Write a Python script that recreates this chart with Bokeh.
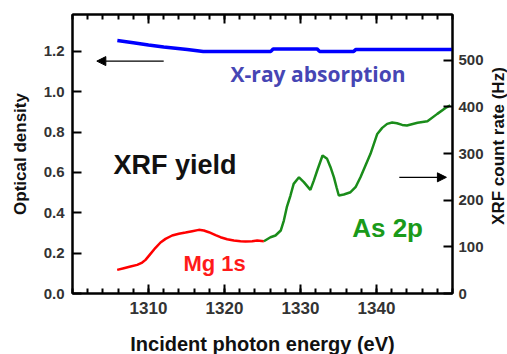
import math
from bokeh.plotting import figure
from bokeh.layouts import row
from bokeh.models import (Range1d, LinearAxis, Label, Arrow, NormalHead, FixedTicker, PrintfTickFormatter,
                          CustomJSTickFormatter)
from bokeh.embed import file_html
from bokeh.resources import INLINE

# X-ray absorption (optical density, left axis)
abs_energy = [1305.9, 1308.0, 1310.0, 1312.0, 1315.1, 1317.2, 1326.1, 1326.4, 1332.2, 1332.5, 1337.0, 1337.3, 1350.0]
abs_od = [1.254, 1.243, 1.232, 1.222, 1.210, 1.200, 1.200, 1.212, 1.212, 1.200, 1.200, 1.210, 1.210]

# XRF yield, Mg 1s region (right axis, Hz)
mg_energy = [1305.88, 1306.75, 1307.63, 1308.51, 1309.17, 1309.61, 1310.26, 1310.92, 1311.58, 1312.24,
             1313.11, 1313.99, 1314.87, 1315.75, 1316.62, 1317.28, 1317.94, 1318.82, 1319.47, 1320.35,
             1321.23, 1322.11, 1322.76, 1323.64, 1324.30, 1325.18]
mg_rate = [50.7, 54.3, 57.9, 61.4, 66.4, 72.1, 85.0, 97.9, 109.3, 117.1,
           124.3, 127.9, 130.7, 133.6, 136.4, 135.0, 131.4, 125.0, 120.7, 116.4,
           113.6, 112.1, 111.4, 112.1, 113.6, 112.1]

# XRF yield, As 2p region (right axis, Hz)
as_energy = [1325.18, 1326.05, 1326.71, 1327.40, 1327.81, 1328.20, 1328.68, 1329.10, 1329.80, 1330.44,
             1331.30, 1331.75, 1332.20, 1332.90, 1333.50, 1333.95, 1334.40, 1334.74, 1335.04, 1335.70,
             1336.58, 1337.24, 1337.89, 1338.55, 1339.21, 1340.10, 1340.75, 1341.40, 1342.06, 1342.70,
             1343.38, 1344.00, 1345.40, 1346.70, 1348.00, 1349.08, 1349.70]
as_rate = [112.1, 120.6, 124.3, 135.0, 156.4, 185.0, 210.0, 235.0, 249.0, 238.6,
           222.0, 242.0, 263.6, 295.7, 288.6, 270.7, 249.0, 227.8, 210.0, 212.1,
           217.1, 227.8, 249.3, 274.3, 299.3, 342.0, 355.0, 363.6, 366.4, 365.0,
           361.4, 360.0, 366.0, 369.0, 385.0, 397.8, 403.0]

x_ticks = [1310, 1320, 1330, 1340]
x_minor = list(range(1300, 1351, 2))
od_ticks = [0.0, 0.2, 0.4, 0.6, 0.8, 1.0, 1.2]
rate_ticks = [0, 100, 200, 300, 400, 500]

FONT = "Liberation Sans"
TICK_COLOR = "#333333"
OD_MAX = 1.383
RATE_MAX = 598
TOTAL_H = 352

p = figure(frame_width=380, frame_height=279, output_backend="svg", toolbar_location=None, title=None,
           x_range=Range1d(1300, 1350), y_range=Range1d(0, OD_MAX),
           min_border_left=72, min_border_right=34, min_border_top=14, min_border_bottom=TOTAL_H - 14 - 279)
p.extra_y_ranges = {"rate": Range1d(0, RATE_MAX)}
p.grid.visible = False
p.outline_line_color = "black"
p.outline_line_width = 2
p.background_fill_color = "white"
p.border_fill_color = "white"


def style_axis(ax, size="15px"):
    ax.axis_line_width = 2
    ax.axis_line_color = "black"
    ax.major_tick_line_width = 2
    ax.minor_tick_line_width = 2
    ax.major_tick_in = 9
    ax.major_tick_out = 0
    ax.minor_tick_in = 5
    ax.minor_tick_out = 0
    ax.major_label_text_font = FONT
    ax.major_label_text_font_style = "bold"
    ax.major_label_text_font_size = size
    ax.major_label_text_color = TICK_COLOR
    ax.axis_label_text_font = FONT
    ax.axis_label_text_font_style = "bold"
    ax.axis_label_text_color = "#111111"


# bottom axis
xa = p.xaxis[0]
style_axis(xa, "17px")
xa.ticker = FixedTicker(ticks=x_ticks, minor_ticks=x_minor)
xa.axis_label = "Incident photon energy (eV)"
xa.axis_label_text_font_size = "20px"
xa.major_label_standoff = 8
xa.axis_label_standoff = 16

# left axis
ya = p.yaxis[0]
style_axis(ya)
ya.ticker = FixedTicker(ticks=od_ticks)
ya.formatter = PrintfTickFormatter(format="%.1f")
ya.axis_label = "Optical density"
ya.axis_label_text_font_size = "17px"
ya.major_label_standoff = 8
ya.axis_label_standoff = 11

# right axis (ticks and numbers)
ra = LinearAxis(y_range_name="rate", ticker=FixedTicker(ticks=rate_ticks))
style_axis(ra)
ra.major_label_standoff = 6
p.add_layout(ra, "right")

# top axis: ticks only (blank labels that still give the axis a small, non-empty panel)
ta = LinearAxis(ticker=FixedTicker(ticks=x_ticks, minor_ticks=x_minor))
style_axis(ta, "8px")
ta.formatter = CustomJSTickFormatter(code="return ' '")
ta.major_label_standoff = 0
p.add_layout(ta, "above")

# curves
p.line(abs_energy, abs_od, line_color="#0000ff", line_width=3.5)
p.line(mg_energy, mg_rate, line_color="#ff0000", line_width=2.5, y_range_name="rate")
p.line(as_energy, as_rate, line_color="#1a8c1a", line_width=2.5, y_range_name="rate")

# arrows
p.add_layout(Arrow(x_start=1312.0, y_start=1.152, x_end=1303.2, y_end=1.152, line_width=1.2, line_color="black",
                   end=NormalHead(size=9, fill_color="black", line_color="black")))
p.add_layout(Arrow(x_start=1343.0, y_start=249, x_end=1349.2, y_end=249, line_width=1.2, line_color="black",
                   y_range_name="rate",
                   end=NormalHead(size=9, fill_color="black", line_color="black")))

# labels
p.add_layout(Label(x=1320.8, y=1.086, text="X-ray absorption", text_font="Open Sans", text_font_style="bold",
                   text_font_size="21px", text_color="#4646b4", text_baseline="middle", text_align="left"))
p.add_layout(Label(x=1305.4, y=0.635, text="XRF yield", text_font=FONT, text_font_style="bold",
                   text_font_size="27px", text_color="#111111", text_baseline="middle", text_align="left"))
p.add_layout(Label(x=1314.6, y=0.149, text="Mg 1s", text_font=FONT, text_font_style="bold",
                   text_font_size="22px", text_color="#ff1a1a", text_baseline="middle", text_align="left"))
p.add_layout(Label(x=1336.8, y=0.326, text="As 2p", text_font=FONT, text_font_style="bold",
                   text_font_size="26px", text_color="#1a9a1a", text_baseline="middle", text_align="left"))

# narrow strip on the right carrying the right-axis title, reading bottom to top
STRIP_W = 21
p2 = figure(width=STRIP_W, height=TOTAL_H, output_backend="svg", toolbar_location=None, title=None,
            x_range=Range1d(0, STRIP_W), y_range=Range1d(0, TOTAL_H),
            x_axis_location=None, y_axis_location=None, min_border=0)
p2.grid.visible = False
p2.outline_line_color = None
p2.background_fill_color = "white"
p2.border_fill_color = "white"
p2.add_layout(Label(x=STRIP_W / 2 + 1, y=TOTAL_H - 169, text="XRF count rate (Hz)", text_font=FONT,
                    text_font_style="bold", text_font_size="17px", text_color="#111111",
                    text_align="center", text_baseline="middle", angle=math.pi / 2))

layout = row(p, p2, spacing=0)
open("out.html", "w").write(file_html(layout, INLINE))
